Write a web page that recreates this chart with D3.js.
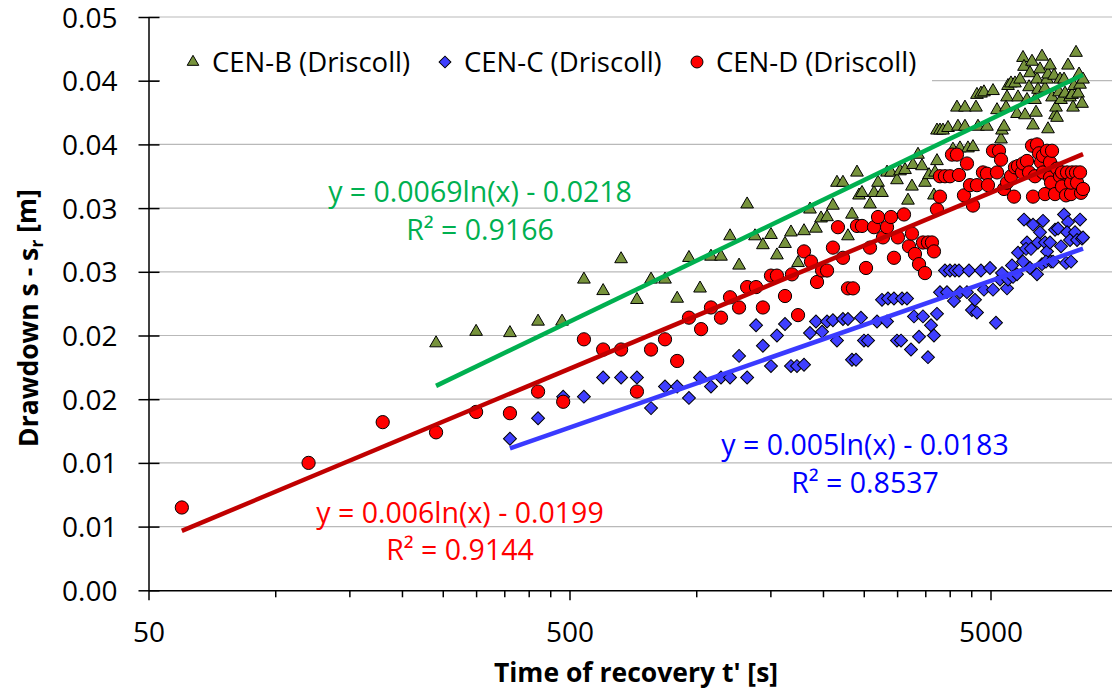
<!DOCTYPE html>
<html><head><meta charset="utf-8">
<script src="https://cdn.jsdelivr.net/npm/d3@7"></script>
<style>body{margin:0;background:#fff}svg{display:block}text{font-family:"Open Sans",sans-serif}</style>
</head><body><svg id="c" width="1112" height="692"></svg>
<script>
// ---- data ----
const seriesNames = ["CEN-B (Driscoll)", "CEN-C (Driscoll)", "CEN-D (Driscoll)"];
const cenB = [[241,.0194],[300,.0203],[361,.0202],[421,.0211],[480,.0211],[541,.0244],[601,.0235],[663,.0260],[723,.0228],[781,.0244],[843,.0244],[901,.0229],[961,.0261],[1021,.0237],[1084,.0262],[1145,.0262],[1203,.0278],[1264,.0255],[1321,.0303],[1379,.0278],[1440,.0271],[1505,.0279],[1555,.0263],[1625,.0272],[1679,.0281],[1745,.0257],[1803,.0282],[1863,.0299],[1925,.0284],[1979,.0292],[2045,.0293],[2112,.0302],[2159,.0320],[2231,.0320],[2293,.0278],[2344,.0295],[2409,.0328],[2436,.0310],[2476,.0312],[2587,.0303],[2644,.0312],[2703,.0320],[2762,.0312],[2839,.0328],[2901,.0328],[2998,.0322],[3048,.0329],[3133,.0330],[3184,.0306],[3254,.0317],[3272,.0334],[3363,.0342],[3437,.0333],[3494,.0320],[3572,.0326],[3670,.0310],[3691,.0328],[3731,.0337],[3731,.0361],[3793,.0361],[3856,.0361],[3963,.0363],[4072,.0346],[4162,.0379],[4185,.0364],[4231,.0347],[4348,.0364],[4348,.0379],[4420,.0347],[4543,.0348],[4618,.0379],[4669,.0364],[4643,.0389],[4746,.0390],[4824,.0391],[4904,.0364],[5069,.0392],[5181,.0377],[5296,.0354],[5325,.0361],[5384,.0364],[5473,.0387],[5443,.0379],[5503,.0396],[5593,.0398],[5717,.0398],[5780,.0374],[5812,.0387],[5876,.0401],[5973,.0418],[6006,.0411],[6039,.0373],[6105,.0385],[6173,.0395],[6206,.0406],[6274,.0415],[6309,.0365],[6378,.0385],[6413,.0375],[6448,.0401],[6484,.0393],[6555,.0409],[6627,.0419],[6737,.0394],[6811,.0401],[6848,.0405],[6848,.0362],[6924,.0412],[7000,.0387],[7116,.0373],[7077,.0404],[7155,.0379],[7194,.0371],[7313,.0401],[7274,.0391],[7353,.0385],[7475,.0401],[7516,.0390],[7640,.0412],[7725,.0387],[7810,.0389],[7853,.0379],[7896,.0396],[7982,.0422],[8071,.0390],[8115,.0405],[8159,.0397],[8249,.0382],[8294,.0401]];
const cenC = [[361,.0119],[421,.0135],[483,.0152],[541,.0152],[601,.0167],[663,.0167],[723,.0167],[781,.0143],[843,.0160],[901,.0160],[961,.0151],[1021,.0167],[1084,.0160],[1145,.0167],[1203,.0167],[1264,.0184],[1321,.0167],[1387,.0208],[1440,.0192],[1505,.0176],[1555,.0200],[1625,.0209],[1679,.0176],[1735,.0176],[1803,.0177],[1863,.0202],[1925,.0211],[1990,.0203],[2045,.0211],[2112,.0212],[2159,.0196],[2231,.0213],[2293,.0213],[2344,.0181],[2396,.0181],[2462,.0214],[2503,.0196],[2559,.0196],[2688,.0211],[2762,.0228],[2839,.0211],[2854,.0229],[2949,.0229],[2998,.0196],[3065,.0196],[3082,.0229],[3167,.0229],[3237,.0189],[3290,.0215],[3382,.0199],[3456,.0215],[3552,.0183],[3611,.0208],[3670,.0200],[3731,.0217],[3793,.0234],[3898,.0251],[3941,.0234],[4006,.0251],[4095,.0227],[4117,.0251],[4208,.0251],[4231,.0234],[4396,.0234],[4445,.0251],[4518,.0220],[4593,.0228],[4643,.0218],[4746,.0251],[4824,.0236],[4986,.0253],[5069,.0236],[5152,.0210],[5267,.0244],[5325,.0249],[5473,.0237],[5503,.0244],[5624,.0255],[5655,.0246],[5780,.0248],[5812,.0265],[5973,.0258],[6006,.0291],[6105,.0273],[6072,.0268],[6206,.0253],[6240,.0268],[6309,.0287],[6448,.0248],[6484,.0273],[6555,.0281],[6627,.0256],[6663,.0290],[6737,.0273],[6811,.0266],[6773,.0258],[6924,.0273],[6962,.0258],[7039,.0258],[7116,.0283],[7234,.0284],[7353,.0270],[7475,.0295],[7557,.0257],[7640,.0289],[7599,.0281],[7725,.0275],[7767,.0258],[7939,.0281],[8027,.0275],[8159,.0291],[8249,.0276],[8294,.0277]];
const cenD = [[60,.0065],[120,.0100],[180,.0132],[241,.0124],[300,.0140],[361,.0139],[421,.0156],[483,.0148],[541,.0197],[601,.0189],[663,.0189],[723,.0156],[781,.0189],[843,.0197],[901,.0180],[961,.0214],[1027,.0205],[1084,.0222],[1145,.0214],[1203,.0230],[1264,.0222],[1321,.0238],[1387,.0238],[1440,.0222],[1505,.0247],[1555,.0247],[1625,.0231],[1688,.0248],[1745,.0216],[1803,.0266],[1873,.0258],[1936,.0242],[1990,.0251],[2045,.0251],[2112,.0269],[2171,.0285],[2231,.0261],[2293,.0237],[2357,.0237],[2409,.0286],[2476,.0286],[2531,.0253],[2587,.0269],[2644,.0285],[2703,.0293],[2777,.0277],[2839,.0285],[2901,.0293],[2949,.0261],[3014,.0277],[3115,.0295],[3202,.0270],[3254,.0280],[3308,.0264],[3382,.0256],[3456,.0273],[3494,.0249],[3552,.0273],[3630,.0273],[3670,.0266],[3731,.0299],[3793,.0309],[3793,.0325],[3898,.0325],[4006,.0325],[4050,.0342],[4162,.0342],[4208,.0326],[4325,.0310],[4396,.0335],[4469,.0318],[4543,.0302],[4643,.0318],[4798,.0328],[4904,.0327],[4931,.0318],[5069,.0345],[5181,.0328],[5238,.0345],[5296,.0338],[5384,.0315],[5473,.0320],[5593,.0325],[5686,.0309],[5717,.0332],[5812,.0333],[5941,.0328],[5973,.0335],[6105,.0337],[6173,.0328],[6309,.0309],[6274,.0349],[6448,.0350],[6519,.0343],[6378,.0325],[6591,.0336],[6663,.0341],[6663,.0328],[6737,.0311],[6811,.0345],[6924,.0336],[6924,.0324],[6962,.0320],[7000,.0345],[7116,.0311],[7194,.0331],[7313,.0325],[7393,.0317],[7393,.0328],[7557,.0310],[7599,.0328],[7767,.0311],[7767,.0320],[7810,.0328],[7982,.0328],[8027,.0320],[8159,.0328],[8204,.0312],[8294,.0315]];
// trendline coefficients: y = a ln(x) + b, and R²
const trendB = [0.0069, -0.0218, "0.9166"];
const trendC = [0.005, -0.0183, "0.8537"];
const trendD = [0.006, -0.0199, "0.9144"];
const yTickValues = [0, 0.005, 0.01, 0.015, 0.02, 0.025, 0.03, 0.035, 0.04, 0.045];
const yTickLabels = ["0.00","0.01","0.01","0.02","0.02","0.03","0.03","0.04","0.04","0.05"];
const xMajorTicks = [50, 500, 5000];
const xMinorTicks = [100,150,200,250,300,350,400,450,1000,1500,2000,2500,3000,3500,4000,4500,10000];

// ---- layout ----
const svg = d3.select("#c");
const L = 148.5, T = 17, B = 590.3;
const FONT = '"Open Sans",sans-serif';
const x = d3.scaleLog().domain([50, 10000]).range([L, L + 421 * Math.log10(200)]);
const y = d3.scaleLinear().domain([0, 0.045]).range([B, T]);

// gridlines
svg.append("g").selectAll("line").data(yTickValues.slice(1)).join("line")
  .attr("x1", L).attr("x2", 1112).attr("y1", d => y(d)).attr("y2", d => y(d))
  .attr("stroke", "#b9b9b9").attr("stroke-width", 1.2);

// axes
const yAxis = svg.append("g").attr("transform", `translate(${L},0)`)
  .call(d3.axisLeft(y).tickValues(yTickValues).tickFormat((d, i) => yTickLabels[i]).tickSizeInner(10).tickSizeOuter(0).tickPadding(21));
yAxis.selectAll(".tick line").attr("x2", -10).attr("x1", 11);
const xAxisMinor = svg.append("g").attr("transform", `translate(0,${B})`)
  .call(d3.axisBottom(x).tickValues(xMinorTicks).tickFormat("").tickSizeInner(7).tickSizeOuter(0));
xAxisMinor.select(".domain").remove();
const xAxis = svg.append("g").attr("transform", `translate(0,${B})`)
  .call(d3.axisBottom(x).tickValues(xMajorTicks).tickFormat(d3.format("d")).tickSizeInner(10).tickSizeOuter(0));
[yAxis, xAxis, xAxisMinor].forEach(g => {
  g.selectAll(".domain").attr("stroke", "#000").attr("stroke-width", 1.5);
  g.selectAll(".tick line").attr("stroke", "#000").attr("stroke-width", 1.5);
  g.selectAll("text").attr("font-size", 28).attr("fill", "#000").style("font-family", FONT);
});
yAxis.selectAll("text").attr("dy", "0.36em");
xAxis.selectAll("text").attr("y", 632 - B).attr("dy", "0.36em");

// markers
const tri = d3.symbol().type(d3.symbolTriangle).size(70);
const dia = d3.symbol().type(d3.symbolSquare).size(84);
const cir = d3.symbol().type(d3.symbolCircle).size(138);
const styles = [
  {data: cenB, path: tri, fill: "#77933c", rot: 0, leg: 58},
  {data: cenC, path: dia, fill: "#3f3fff", rot: 45, leg: 70},
  {data: cenD, path: cir, fill: "#ff0000", rot: 0, leg: 112}
];
styles.forEach(s => {
  svg.append("g").selectAll("path").data(s.data).join("path")
    .attr("d", s.path())
    .attr("transform", d => `translate(${x(d[0])},${y(d[1])}) rotate(${s.rot})`)
    .attr("fill", s.fill).attr("stroke", "#000").attr("stroke-width", 1);
});

// trendlines
const trends = [
  {c: trendB, data: cenB, color: "#00b050"},
  {c: trendC, data: cenC, color: "#3a3aff"},
  {c: trendD, data: cenD, color: "#c00000"}
];
trends.forEach(t => {
  const ext = d3.extent(t.data, d => d[0]);
  const f = v => t.c[0] * Math.log(v) + t.c[1];
  svg.append("line")
    .attr("x1", x(ext[0])).attr("y1", y(f(ext[0])))
    .attr("x2", x(ext[1])).attr("y2", y(f(ext[1])))
    .attr("stroke", t.color).attr("stroke-width", 4.5);
});

// equations
const eqs = [
  {c: trendB, cx: 480, y1: 192, y2: 230, color: "#00b050"},
  {c: trendD, cx: 460, y1: 513, y2: 550, color: "#ff0000"},
  {c: trendC, cx: 865, y1: 445, y2: 483, color: "#0000ff"}
];
eqs.forEach(e => {
  const b = e.c[1];
  svg.append("text").attr("x", e.cx).attr("y", e.y1).attr("dy", "0.36em")
    .attr("text-anchor", "middle").attr("font-size", 28.5).attr("fill", e.color)
    .text(`y = ${e.c[0]}ln(x) ${b < 0 ? "-" : "+"} ${Math.abs(b)}`);
  svg.append("text").attr("x", e.cx).attr("y", e.y2).attr("dy", "0.36em")
    .attr("text-anchor", "middle").attr("font-size", 28.5).attr("fill", e.color)
    .text(`R² = ${e.c[2]}`);
});

// legend
svg.append("rect").attr("x", 160).attr("y", 33).attr("width", 772).attr("height", 60).attr("fill", "#fff");
const legX = [193, 445, 697];
styles.forEach((s, i) => {
  svg.append("path").attr("d", d3.symbol().type(s.path.type()).size(s.leg)())
    .attr("transform", `translate(${legX[i]},62) rotate(${s.rot})`)
    .attr("fill", s.fill).attr("stroke", "#000").attr("stroke-width", 1);
  svg.append("text").attr("x", legX[i] + 19).attr("y", 62).attr("dy", "0.36em")
    .attr("font-size", 27.5).attr("fill", "#000").text(seriesNames[i]);
});

// axis titles
svg.append("text").attr("x", 636).attr("y", 672).attr("dy", "0.36em").attr("text-anchor", "middle")
  .attr("font-size", 26.5).attr("font-weight", "bold").text("Time of recovery t' [s]");
const yt = svg.append("text").attr("transform", "translate(28,318) rotate(-90)").attr("dy", "0.36em")
  .attr("text-anchor", "middle").attr("font-size", 26.5).attr("font-weight", "bold");
yt.append("tspan").text("Drawdown s - s");
yt.append("tspan").attr("font-size", 18).attr("dy", "0.3em").text("r");
yt.append("tspan").attr("dy", "-0.25em").text(" [m]");
</script></body></html>
